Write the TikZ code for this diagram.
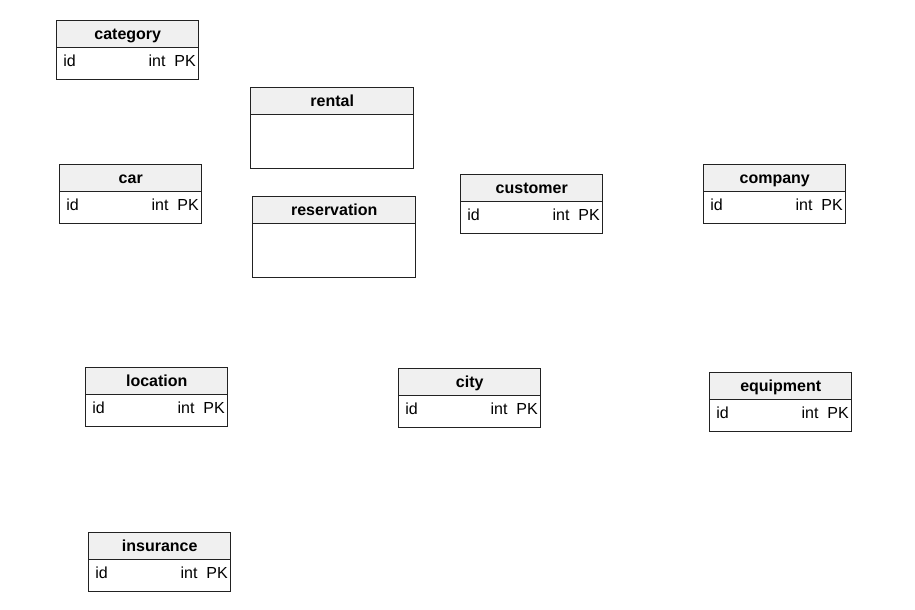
\documentclass[tikz,border=0pt]{standalone}
\usepackage{fontspec}
\setmainfont{Liberation Sans}
\definecolor{bordc}{HTML}{222222}
\definecolor{hdrc}{HTML}{F0F0F0}
\tikzset{
  hdr/.style={draw=bordc, fill=hdrc, line width=1.1pt, minimum height=20.25pt, text height=9.2pt, text depth=1.8pt, anchor=north west, inner sep=0pt, font=\fontsize{12}{14}\selectfont\bfseries},
  bodyb/.style={draw=bordc, fill=white, line width=1.1pt, anchor=north west, inner sep=0pt},
  fld/.style={anchor=west, inner sep=0pt, text height=8.6pt, text depth=2.4pt, font=\fontsize{12}{14}\selectfont},
  typ/.style={anchor=east, inner sep=0pt, text height=8.6pt, text depth=2.4pt, font=\fontsize{12}{14}\selectfont},
}
% #1 name, #2 x, #3 y, #4 title
\newcommand{\idtable}[4]{%
  \node[bodyb, minimum width=106.5pt, minimum height=24pt] (#1-body) at (#2,#3+27) {};
  \node[hdr, minimum width=106.5pt] (#1) at (#2,#3) {#4};
  \node[fld] (#1-id) at (#2+7,#3+42) {id};
  \node[typ] (#1-type) at (#2+140,#3+42) {int\ \ PK};
}
\newcommand{\emptytable}[4]{%
  \node[bodyb, minimum width=122.25pt, minimum height=40.5pt] (#1-body) at (#2,#3+27) {};
  \node[hdr, minimum width=122.25pt] (#1) at (#2,#3) {#4};
}
\begin{document}
\begin{tikzpicture}[x=0.75pt,y=-0.75pt]
\useasboundingbox (0,0) rectangle (915,610);
\idtable{category}{56}{20}{category}
\emptytable{rental}{250}{87}{rental}
\idtable{car}{59}{164}{car}
\emptytable{reservation}{252}{196}{reservation}
\idtable{customer}{460}{174}{customer}
\idtable{company}{703}{164}{company}
\idtable{location}{85}{367}{location}
\idtable{city}{398}{368}{city}
\idtable{equipment}{709}{372}{equipment}
\idtable{insurance}{88}{532}{insurance}
\end{tikzpicture}
\end{document}
